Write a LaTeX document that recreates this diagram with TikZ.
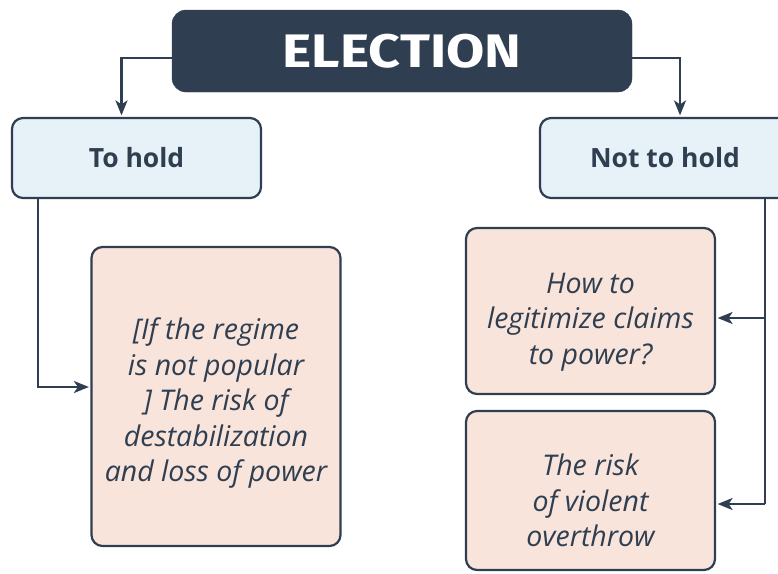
\documentclass[tikz,border=0pt]{standalone}
\usepackage{fontspec}
\setmainfont{Open Sans}
\newfontfamily\titlefont{Fira Sans}[FakeStretch=1.18]
\usetikzlibrary{arrows.meta}
\definecolor{navy}{HTML}{2F3F51}
\definecolor{paleblue}{HTML}{E7F2F8}
\definecolor{palepink}{HTML}{F8E4DB}
\tikzset{
  titlebox/.style={fill=navy, draw=navy, rounded corners=14pt, minimum width=460pt, minimum height=82pt,
    text=white, font=\titlefont\bfseries\fontsize{47}{50}\selectfont},
  choicebox/.style={fill=paleblue, draw=navy, line width=2.2pt, rounded corners=11pt,
    minimum width=249pt, minimum height=80pt, text=navy, font=\bfseries\fontsize{26.5}{30}\selectfont},
  outcomebox/.style={fill=palepink, draw=navy, line width=2.2pt, rounded corners=11pt,
    minimum width=249pt, text=navy, align=center, font=\itshape\fontsize{28.5}{35.5}\selectfont},
  conn/.style={draw=navy, line width=2.5pt},
  arr/.style={conn, -{Stealth[length=15pt,width=12pt,inset=4pt]}, shorten >=1.5pt}
}
\begin{document}
\begin{tikzpicture}[x=1pt,y=-1pt]
  \useasboundingbox (0,0) rectangle (778,573);
  \clip (0,0) rectangle (778,573);

  % top node
  \node[titlebox] (title) at (402,51) {ELECTION};

  % the two choices
  \node[choicebox] (hold) at (136.5,158) {To hold};
  \node[choicebox, minimum width=250pt] (nothold) at (665,158) {Not to hold};

  % consequences: boxes, then their centred text
  \node[outcomebox, minimum height=299pt] (risk) at (216,396.5) {};
  \node[outcomebox, minimum height=166pt] (legit) at (590.5,311) {};
  \node[outcomebox, minimum height=159pt] (overthrow) at (590.5,490.5) {};
  \node[outcomebox, draw=none, fill=none] at ([yshift=-7pt]risk.center)
    {[If the regime\\is not popular\\\relax] The risk of\\destabilization\\and loss of power};
  \node[outcomebox, draw=none, fill=none] at ([yshift=-11pt]legit.center)
    {How to\\legitimize claims\\to power?};
  \node[outcomebox, draw=none, fill=none] at ([yshift=-10pt]overthrow.center)
    {The risk\\of violent\\overthrow};

  % connector anchors
  \coordinate (tl) at (title.west |- 0,58);
  \coordinate (tr) at (title.east |- 0,58);
  \coordinate (hl) at ([xshift=-15pt]hold.north);
  \coordinate (nl) at ([xshift=15pt]nothold.north);
  \coordinate (hs) at ([xshift=27pt]hold.south west);
  \coordinate (ns) at (765,198);
  \coordinate (riskin) at (risk.west |- 0,387);
  \coordinate (legitin) at (legit.east |- 0,318);
  \coordinate (overin) at (overthrow.east |- 0,504);

  % connectors
  \draw[arr] (tl) -| (hl);
  \draw[arr] (tr) -| (nl);
  \draw[arr] (hs) |- (riskin);
  \draw[conn] (ns) -- (ns |- overin);
  \draw[arr] (ns |- legitin) -- (legitin);
  \draw[arr] (ns |- overin) -- (overin);
\end{tikzpicture}
\end{document}
